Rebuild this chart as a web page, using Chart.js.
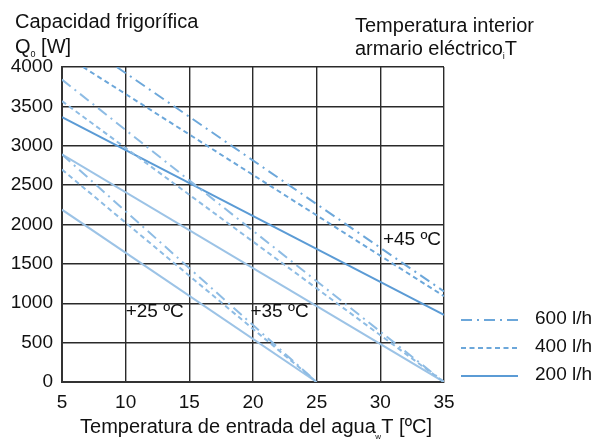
<!DOCTYPE html>
<html>
<head>
<meta charset="utf-8">
<script src="https://cdn.jsdelivr.net/npm/chart.js@4/dist/chart.umd.min.js"></script>
<style>
  html, body { margin: 0; padding: 0; background: #fff; }
  #wrap { width: 595px; height: 441px; }
</style>
</head>
<body>
<div id="wrap"><canvas id="chart" width="595" height="441"></canvas></div>
<script>
// Cooling capacity Q0 [W] vs water inlet temperature Tw [ºC]
// each curve is a straight line: [Tw start, Tw end] / [Q0 start, Q0 end]
const flowRates = ['600 l/h', '400 l/h', '200 l/h'];
const cabinetTemps = ['+25 ºC', '+35 ºC', '+45 ºC'];

const tw25 = [5, 25];
const q25_600 = [2890, 0];
const q25_400 = [2697, 0];
const q25_200 = [2188, 0];

const tw35 = [5, 35];
const q35_600 = [3840, 0];
const q35_400 = [3566, 0];
const q35_200 = [2890, 0];

const tw45_600 = [9.3, 35];
const tw45_400 = [6.65, 35];
const tw45_200 = [5, 35];
const q45_600 = [4000, 1150];
const q45_400 = [4000, 1090];
const q45_200 = [3362, 852];

const xTicks = [5, 10, 15, 20, 25, 30, 35];
const yTicks = [0, 500, 1000, 1500, 2000, 2500, 3000, 3500, 4000];

const FONT = "'Liberation Sans', Arial, sans-serif";
const dashByFlow = [[11, 5, 2, 5], [5, 3.5], []];
// the +45 ºC family is drawn a little darker than the other two
const lightBlue = '#8ebce4';
const midBlue = '#6ca7da';
const darkBlue = '#5b9bd5';

function curve(tw, q, flowIdx, color) {
  return {
    label: flowRates[flowIdx],
    data: tw.map((x, i) => ({ x: x, y: q[i] })),
    borderColor: color,
    borderDash: dashByFlow[flowIdx],
    borderWidth: 2,
    pointRadius: 0,
    fill: false,
    tension: 0
  };
}

const datasets = [
  curve(tw25, q25_600, 0, lightBlue),
  curve(tw25, q25_400, 1, lightBlue),
  curve(tw25, q25_200, 2, '#9cc3e6'),
  curve(tw35, q35_600, 0, lightBlue),
  curve(tw35, q35_400, 1, lightBlue),
  curve(tw35, q35_200, 2, '#9cc3e6'),
  curve(tw45_600, q45_600, 0, midBlue),
  curve(tw45_400, q45_400, 1, midBlue),
  curve(tw45_200, q45_200, 2, darkBlue)
];

// label anchors (left edge, vertical middle) in data units
const tempLabelPos = [[10, 890], [19.8, 890], [30.2, 1810]];

// draws text with a small subscript inserted after `before`
function textWithSub(ctx, x, y, before, sub, after) {
  ctx.font = '20px ' + FONT;
  ctx.fillText(before, x, y);
  let w = ctx.measureText(before).width;
  ctx.font = '9px ' + FONT;
  ctx.fillText(sub, x + w, y + 4);
  const sw = ctx.measureText(sub).width;
  ctx.font = '20px ' + FONT;
  ctx.fillText(after, x + w + sw, y);
}

const annotations = {
  id: 'annotations',
  afterDraw(chart) {
    const ctx = chart.ctx;
    const xs = chart.scales.x, ys = chart.scales.y;
    ctx.save();
    ctx.fillStyle = '#111';
    ctx.textAlign = 'left';
    ctx.textBaseline = 'alphabetic';

    // axis titles
    ctx.font = '20px ' + FONT;
    ctx.fillText('Capacidad frigorífica', 15, 28);
    textWithSub(ctx, 15, 53, 'Q', '0', ' [W]');
    ctx.font = '20px ' + FONT;
    ctx.fillText('Temperatura interior', 355, 32);
    textWithSub(ctx, 355, 55, 'armario eléctrico', 'i', 'T');

    ctx.font = '20px ' + FONT;
    const head = 'Temperatura de entrada del agua ';
    const tail = 'T [ºC]';
    const total = ctx.measureText(head + tail).width;
    const x0 = 256 - total / 2;
    ctx.fillText(head, x0, 433);
    const hw = ctx.measureText(head).width;
    ctx.fillText(tail, x0 + hw, 433);
    ctx.font = '8px ' + FONT;
    ctx.fillText('w', x0 + hw - 6, 439);

    // cabinet temperature labels
    ctx.font = '19px ' + FONT;
    ctx.textBaseline = 'middle';
    cabinetTemps.forEach((t, i) => {
      const p = tempLabelPos[i];
      ctx.fillText(t, xs.getPixelForValue(p[0]), ys.getPixelForValue(p[1]));
    });

    // legend
    const legendY = [320, 348, 376];
    const legendColors = [midBlue, midBlue, darkBlue];
    flowRates.forEach((name, i) => {
      ctx.beginPath();
      ctx.setLineDash(dashByFlow[i]);
      ctx.strokeStyle = legendColors[i];
      ctx.lineWidth = 2;
      ctx.moveTo(461, legendY[i]);
      ctx.lineTo(518, legendY[i]);
      ctx.stroke();
      ctx.setLineDash([]);
      ctx.fillText(name, 535, legendY[i] - 1);
    });
    ctx.restore();
  }
};

new Chart(document.getElementById('chart').getContext('2d'), {
  type: 'line',
  data: { datasets: datasets },
  options: {
    responsive: false,
    animation: false,
    devicePixelRatio: 1,
    layout: { padding: { left: 0, right: 151, top: 67, bottom: 0 } },
    plugins: {
      legend: { display: false },
      tooltip: { enabled: false }
    },
    scales: {
      x: {
        type: 'linear',
        min: xTicks[0],
        max: xTicks[xTicks.length - 1],
        afterBuildTicks: (scale) => { scale.ticks = xTicks.map(v => ({ value: v })); },
        afterFit: (scale) => { scale.height = 59; },
        grid: { color: '#2a2a2a', lineWidth: 1.4, drawTicks: false },
        border: { color: '#333', width: 2 },
        ticks: { color: '#111', font: { family: FONT, size: 19 }, padding: 9, maxRotation: 0,
                 callback: (v) => String(v) }
      },
      y: {
        type: 'linear',
        min: yTicks[0],
        max: yTicks[yTicks.length - 1],
        afterBuildTicks: (scale) => { scale.ticks = yTicks.map(v => ({ value: v })); },
        afterFit: (scale) => { scale.width = 62; },
        grid: { color: '#2a2a2a', lineWidth: 1.4, drawTicks: false },
        border: { color: '#333', width: 2 },
        ticks: { color: '#111', font: { family: FONT, size: 19 }, padding: 9,
                 callback: (v) => String(v) }
      }
    }
  },
  plugins: [annotations]
});
</script>
</body>
</html>
